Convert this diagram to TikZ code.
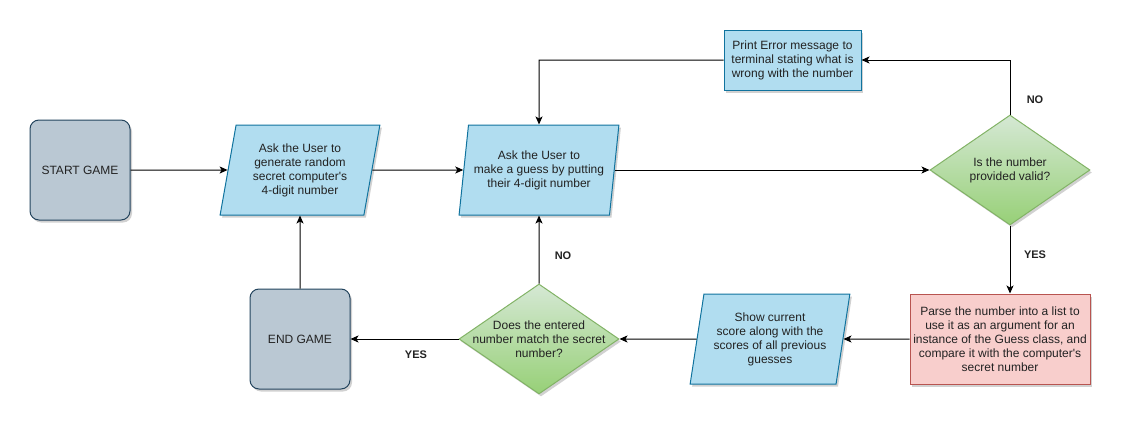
\documentclass[tikz,border=0pt]{standalone}
\usepackage{fontspec}
\setmainfont{Liberation Sans}
\usetikzlibrary{shapes.geometric,arrows.meta,shadows}
\definecolor{termfill}{HTML}{BAC8D3}
\definecolor{termline}{HTML}{23445D}
\definecolor{iofill}{HTML}{B1DDF0}
\definecolor{ioline}{HTML}{10739E}
\definecolor{dtop}{HTML}{D5E8D4}
\definecolor{dbot}{HTML}{97D077}
\definecolor{dline}{HTML}{82B366}
\definecolor{redfill}{HTML}{F8CECC}
\definecolor{redline}{HTML}{B85450}
\definecolor{txt}{HTML}{222222}
\tikzset{
  shad/.style={drop shadow={shadow xshift=2pt,shadow yshift=-2.5pt,opacity=0.18,fill=black}},
  term/.style={shad,rectangle,rounded corners=9pt,draw=termline,fill=termfill,line width=1pt,
    minimum width=100pt,minimum height=100pt,font=\fontsize{12pt}{14pt}\selectfont,text=txt,align=center},
  io/.style={shad,trapezium,trapezium left angle=77.5,trapezium right angle=102.5,trapezium stretches=true,
    draw=ioline,fill=iofill,line width=1pt,minimum width=160pt,minimum height=90pt,inner sep=0pt,
    font=\fontsize{12pt}{14pt}\selectfont,text=txt,align=center},
  procbox/.style={shad,rectangle,draw=#1,line width=1pt,font=\fontsize{12pt}{14pt}\selectfont,text=txt,align=center,inner sep=0pt},
  decision/.style={shad,diamond,draw=dline,top color=dtop,bottom color=dbot,line width=1pt,
    minimum width=160pt,minimum height=110pt,inner sep=0pt},
  dtext/.style={font=\fontsize{12pt}{14pt}\selectfont,text=txt,align=center},
  edgelab/.style={font=\bfseries\fontsize{11pt}{13pt}\selectfont,text=txt},
  flow/.style={draw=black,line width=1pt,-{Stealth[length=8pt,width=7pt,inset=2pt]}}
}
\begin{document}
\begin{tikzpicture}[x=1pt,y=-1pt]
\useasboundingbox (0,0) rectangle (1127,431);
\node[term] (start) at (80,170) {START GAME};
\node[term] (endg) at (300,339) {END GAME};
\node[io] (gen) at (300,170) {Ask the User to\\generate random\\secret computer\textquotesingle s\\4-digit number};
\node[io] (guess) at (539,170) {Ask the User to\\make a guess by putting\\their 4-digit number};
\node[procbox=ioline,fill=iofill,minimum width=137pt,minimum height=60pt] (err) at (792.5,60) {Print Error message to\\terminal stating what is\\wrong with the number};
\node[decision] (valid) at (1010,170) {};
\node[dtext] at (valid.center) {Is the number\\provided valid?};
\node[procbox=redline,fill=redfill,minimum width=180pt,minimum height=90pt] (parse) at (1000,339) {Parse the number into a list to\\use it as an argument for an\\instance of the Guess class, and\\compare it with the computer\textquotesingle s\\secret number};
\node[io] (show) at (770,339) {Show current\\score along with the\\scores of all previous\\guesses};
\node[decision] (match) at (539,339) {};
\node[dtext] at (match.center) {Does the entered\\number match the secret\\number?};
\coordinate (errcorner) at (1010,60);
\coordinate (errleft) at (539,60);
\draw[flow] (start.east) -- (gen.west);
\draw[flow] (gen.east) -- (guess.west);
\draw[flow] (guess.east) -- (valid.west);
\draw[flow] (valid.north) -- (errcorner) -- (err.east);
\draw[flow] (err.west) -- (errleft) -- (guess.north);
\draw[flow] (valid.south) -- (valid.south |- parse.north);
\draw[flow] (parse.west) -- (show.east);
\draw[flow] (show.west) -- (match.east);
\draw[flow] (match.north) -- (guess.south);
\draw[flow] (match.west) -- (endg.east);
\draw[flow] (endg.north) -- (gen.south);
\node[edgelab] (lno1) at (1035,100) {NO};
\node[edgelab] (lyes1) at (1035,255) {YES};
\node[edgelab] (lno2) at (563,256) {NO};
\node[edgelab] (lyes2) at (416,355) {YES};
\end{tikzpicture}
\end{document}
